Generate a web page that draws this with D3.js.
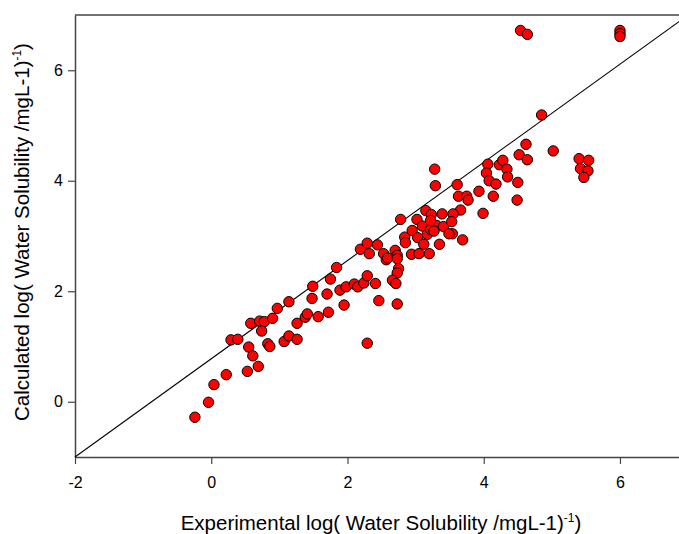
<!DOCTYPE html>
<html>
<head>
<meta charset="utf-8">
<script src="https://cdn.jsdelivr.net/npm/d3@7"></script>
<style>
  html, body { margin: 0; padding: 0; background: #fff; }
  svg { display: block; font-family: "Liberation Sans", Arial, Helvetica, sans-serif; }
</style>
</head>
<body>
<svg id="chart" width="679" height="534"></svg>
<script>
// Experimental vs calculated log(water solubility) for each compound
const experimental = [
  -0.24, -0.04, 0.04, 0.22, 0.29, 0.39, 0.53, 0.55, 0.61, 0.69,
  0.58, 0.71, 0.78, 0.74, 0.83, 0.86, 0.90, 0.97, 1.14, 1.07,
  1.14, 1.26, 1.26, 1.38, 1.41, 1.48, 1.49, 1.57, 1.72, 1.70,
  1.75, 1.84, 1.95, 1.89, 1.98, 2.10, 2.15, 2.24, 2.29, 2.41,
  2.46, 2.29, 2.19, 2.29, 2.32, 2.44, 2.53, 2.57, 2.59, 2.70,
  2.73, 2.73, 2.75, 2.73, 2.66, 2.71, 2.73, 2.78, 2.84, 2.85,
  2.94, 2.95, 3.02, 3.03, 3.05, 3.10, 3.12, 3.15, 3.17, 3.20,
  3.23, 3.22, 3.31, 3.27, 3.35, 3.28, 3.29, 3.61, 3.63, 3.75,
  3.77, 3.93, 3.66, 3.99, 4.06, 4.04, 4.08, 4.18, 4.14, 4.23,
  4.28, 4.34, 4.35, 4.50, 4.49, 4.52, 4.64, 4.62, 5.02, 4.85,
  5.40, 5.54, 5.42, 5.53, 5.47, 3.39, 3.55, 3.22, 3.41, 3.53,
  3.54, 3.49, 3.69, 4.54, 4.64, 6.00, 6.00, 6.00
];
const calculated = [
  -0.28, -0.01, 0.31, 0.49, 1.12, 1.13, 0.55, 0.99, 0.83, 0.64,
  1.42, 1.46, 1.45, 1.28, 1.05, 1.00, 1.51, 1.69, 1.81, 1.09,
  1.19, 1.13, 1.42, 1.53, 1.59, 1.87, 2.09, 1.54, 1.62, 1.95,
  2.22, 2.43, 1.75, 2.02, 2.08, 2.13, 2.08, 2.15, 2.28, 2.14,
  1.83, 1.06, 2.76, 2.87, 2.68, 2.84, 2.68, 2.57, 2.60, 2.74,
  2.65, 2.59, 2.41, 2.33, 2.20, 2.14, 1.77, 3.30, 2.98, 2.88,
  2.67, 3.10, 3.30, 2.97, 2.68, 3.18, 2.85, 3.46, 3.03, 2.68,
  3.39, 3.12, 3.19, 3.09, 2.85, 4.21, 3.91, 3.93, 3.72, 3.72,
  3.65, 3.81, 3.47, 3.41, 4.30, 4.14, 4.00, 3.94, 3.72, 4.29,
  4.37, 4.21, 4.07, 3.97, 3.65, 4.47, 4.38, 4.66, 4.54, 5.19,
  4.40, 4.37, 4.22, 4.18, 4.06, 3.40, 3.40, 3.28, 3.17, 3.26,
  3.04, 3.04, 2.93, 6.72, 6.65, 6.72, 6.66, 6.61
];

// Axis ranges, ticks and the corner-to-corner reference line
const xDomain = [-2, 7];
const yDomain = [-1, 7];
const xTicks = [-2, 0, 2, 4, 6];
const yTicks = [0, 2, 4, 6];
const refLine = [[-2, -1], [7, 7]];

const points = experimental.map((e, i) => ({ e, c: calculated[i] }));

const svg = d3.select("#chart");
const x = d3.scaleLinear().domain(xDomain).range([75, 688.1]);
const y = d3.scaleLinear().domain(yDomain).range([457, 15]);

// plain hyphen for negative tick values
const fmt = d => String(d);

// frame: top edge
svg.append("line")
  .attr("x1", x(xDomain[0])).attr("x2", x(xDomain[1]))
  .attr("y1", y(yDomain[1])).attr("y2", y(yDomain[1]))
  .attr("stroke", "#444").attr("stroke-width", 1.5);

const xAxis = svg.append("g")
  .attr("transform", `translate(0,${y(yDomain[0])})`)
  .call(d3.axisBottom(x).tickValues(xTicks).tickFormat(fmt)
    .tickSizeInner(7).tickSizeOuter(0).tickPadding(13));

const yAxis = svg.append("g")
  .attr("transform", `translate(${x(xDomain[0])},0)`)
  .call(d3.axisLeft(y).tickValues(yTicks).tickFormat(fmt)
    .tickSizeInner(7).tickSizeOuter(0).tickPadding(5));

[xAxis, yAxis].forEach(g => {
  g.select(".domain").attr("stroke", "#444").attr("stroke-width", 1.5);
  g.selectAll(".tick line").attr("stroke", "#444").attr("stroke-width", 1.2);
  g.selectAll(".tick text")
    .attr("fill", "#000")
    .style("font-family", '"Liberation Sans", Arial, sans-serif')
    .style("font-size", "16px");
});

// reference line
svg.append("line")
  .attr("x1", x(refLine[0][0])).attr("y1", y(refLine[0][1]))
  .attr("x2", x(refLine[1][0])).attr("y2", y(refLine[1][1]))
  .attr("stroke", "#000").attr("stroke-width", 1.1);

// data points
svg.append("g")
  .selectAll("circle")
  .data(points)
  .join("circle")
  .attr("cx", d => x(d.e))
  .attr("cy", d => y(d.c))
  .attr("r", 5.2)
  .attr("fill", "#ff0000")
  .attr("stroke", "#000")
  .attr("stroke-width", 1);

// axis titles with superscript exponent
const xTitle = svg.append("text")
  .attr("x", 381).attr("y", 530)
  .attr("text-anchor", "middle")
  .style("font-size", "20.5px")
  .attr("fill", "#000");
xTitle.append("tspan").text("Experimental log( Water Solubility /mgL-1)");
xTitle.append("tspan").attr("dy", -8).style("font-size", "12px").text("-1");
xTitle.append("tspan").attr("dy", 8).text(")");

const yTitle = svg.append("text")
  .attr("transform", "translate(29,232) rotate(-90)")
  .attr("text-anchor", "middle")
  .style("font-size", "20.5px")
  .attr("fill", "#000");
yTitle.append("tspan").text("Calculated log( Water Solubility /mgL-1)");
yTitle.append("tspan").attr("dy", -8).style("font-size", "12px").text("-1");
yTitle.append("tspan").attr("dy", 8).text(")");
</script>
</body>
</html>
